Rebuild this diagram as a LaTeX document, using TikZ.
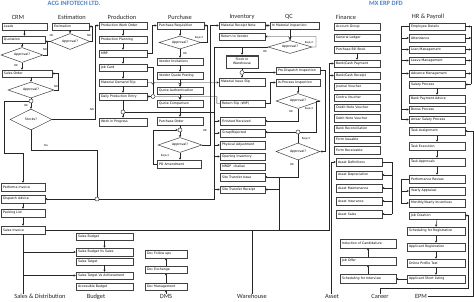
\documentclass[tikz,border=0pt]{standalone}
\usepackage{fontspec}
\setmainfont{DejaVu Sans}
\newfontfamily\hdfam{Carlito}
\usetikzlibrary{arrows.meta,shapes.geometric}
\newcommand\bxfont{\fontsize{3.2}{3.6}\selectfont}
\newcommand\lbfont{\fontsize{2.6}{3}\selectfont}
\newcommand\hdfont{\hdfam\fontsize{6.4}{7}\selectfont}
\newcommand\ttfontx{\hdfam\bfseries\fontsize{6.5}{7}\selectfont}
\definecolor{boxc}{gray}{0.25}
\definecolor{linec}{gray}{0.15}
\definecolor{ttc}{RGB}{79,129,200}
\newcommand\Bx[6]{%
  \pgfmathsetmacro\bxw{#4-#2}%
  \pgfmathsetmacro\bxh{#5-#3}%
  \pgfmathsetmacro\bxt{#4-#2-4}%
  \pgfmathsetmacro\bxcx{(#2+#4)/2}%
  \pgfmathsetmacro\bxcy{(#3+#5)/2}%
  \node[bx,minimum width=\bxw pt,minimum height=\bxh pt,text width=\bxt pt] (#1) at (\bxcx,\bxcy) {\mbox{#6}};}
\begin{document}
\begin{tikzpicture}[x=1pt,y=-1pt,
  bx/.style={draw=boxc,line width=0.5pt,fill=white,inner xsep=2pt,inner ysep=0pt,align=left,font=\bxfont},
  dm/.style={diamond,draw=boxc,line width=0.5pt,fill=white,inner sep=0pt,aspect=2.5,font=\bxfont},
  jn/.style={circle,draw=boxc,line width=0.5pt,fill=white,inner sep=0pt,minimum size=4pt},
  ln/.style={draw=linec,line width=0.45pt},
  ar/.style={ln,-{Stealth[length=2.2pt,width=2.2pt]}},
  dar/.style={ln,{Stealth[length=2.2pt,width=2.2pt]}-{Stealth[length=2.2pt,width=2.2pt]}},
  lb/.style={font=\lbfont,inner sep=0pt},
  hd/.style={font=\hdfont,inner sep=0pt,text=black!85},
  bt/.style={font=\hdfont,inner sep=0.5pt,text=black!85},
  tt/.style={font=\ttfontx,inner sep=0pt,text=ttc}]
\useasboundingbox (0,0) rectangle (474,302);
\fill[white] (0,0) rectangle (474,302);

% ================= NODES =================
\node[tt] (t1) at (74,3.5) {ACG INFOTECH LTD.};
\node[tt] (t2) at (386,3.5) {MX ERP DFD};
\node[hd] (h1) at (18,17) {CRM};
\node[hd] (h2) at (72,17) {Estimation};
\node[hd] (h3) at (122,17) {Production};
\node[hd] (h4) at (180,17) {Purchase};
\node[hd] (h5) at (242,17) {Inventory};
\node[hd] (h6) at (289,17) {QC};
\node[hd] (h7) at (346,17) {Finance};
\node[hd] (h8) at (428,17) {HR \& Payroll};
\node[bt] (lsd) at (40,296.5) {Sales \& Distribution};
\node[bt] (lbud) at (96,296.5) {Budget};
\node[bt] (ldms) at (166,296.5) {DMS};
\node[bt] (lwh) at (252,296.5) {Warehouse};
\node[bt] (lasset) at (332,296.5) {Asset};
\node[bt] (lcar) at (380,296.5) {Career};
\node[bt] (lepm) at (421,296.5) {EPM};

% CRM
\Bx{leads}{2}{23}{47}{30}{Leads}
\Bx{quot}{2}{36}{45}{43}{Quotation}
\node[dm,minimum width=42pt,minimum height=15pt] (ca1) at (22,55) {Approval?};
\Bx{so}{2}{70}{52}{77}{Sales Order}
\node[dm,minimum width=46pt,minimum height=16pt] (ca2) at (31,90) {Approval?};
\node[jn] (c1) at (31,101) {};
\node[dm,minimum width=42pt,minimum height=21pt] (stk) at (31,119.5) {Stocks?};
\Bx{pinv}{1}{183}{45}{191}{Performa Invoice}
\Bx{dadv}{1}{195}{45}{203}{Dispatch Advice}
\Bx{pack}{1}{209}{45}{217}{Packing List}
\Bx{sinv}{1}{226}{45}{234}{Sales Invoice}
\node[jn] (c2) at (97,199) {};
% Estimation
\Bx{est}{52}{23}{89}{30}{Estimation}
\node[dm,minimum width=40pt,minimum height=16pt] (ea) at (70,41.5) {Approval?};
% Production
\Bx{pwo}{99}{22}{147}{29}{Production Work Order}
\Bx{ppl}{99}{36}{147}{43}{Production Planning}
\Bx{mrp}{99}{50}{147}{57}{MRP}
\Bx{jc}{99}{64}{147}{71}{Job Card}
\Bx{mds}{99}{79}{147}{86}{Material Demand Slip}
\Bx{dpe}{99}{93}{147}{100}{Daily Production Entry}
\node[jn] (c3) at (123,112) {};
\Bx{wip}{99}{118}{147}{126}{Work in Progress}
\node[jn] (c5) at (153,96.5) {};
% Purchase
\Bx{pr}{157}{22}{204}{29}{Purchase Requisition}
\node[dm,minimum width=42pt,minimum height=13pt] (pa1) at (180,42.5) {Approval?};
\Bx{vi}{157}{58}{203}{65}{Vendor Invitations}
\Bx{vqp}{157}{72}{203}{79}{Vendor Quote Posting}
\Bx{qa}{157}{87}{203}{94}{Quote Authentication}
\Bx{qcm}{157}{100}{203}{107}{Quote Comparison}
\Bx{po}{157}{117}{203}{125}{Purchase Order}
\node[jn] (c4) at (180,130) {};
\node[dm,minimum width=44pt,minimum height=15pt] (pa2) at (180,145) {Approval?};
\Bx{poa}{157}{160}{201}{168}{PO Amendment}
% Inventory
\Bx{mrn}{219}{22}{265}{29}{Material Receipt Note}
\Bx{rtv}{219}{33}{265}{40}{Return to Vendor}
\node[draw=boxc,line width=.5pt,fill=white,minimum width=32pt,minimum height=13pt,inner sep=0pt,align=center,font=\bxfont] (siw) at (242,61.5) {Stock in\\Warehouse};
\node[jn] (c6) at (242,72.5) {};
\Bx{mis}{219}{78}{265}{86}{Material Issue Slip}
\Bx{rsw}{220}{100}{265}{107}{Return Slip (WIP)}
\Bx{fr}{220}{117}{265}{125}{Finished Received}
\Bx{sr}{220}{129}{265}{137}{Scrap/Rejected}
\Bx{pad}{220}{141}{265}{149}{Physical Adjustment}
\Bx{oi}{220}{153}{265}{160}{Opening Inventory}
\Bx{mrgp}{220}{163}{265}{170}{MRGP \ challan}
\Bx{sti}{220}{173}{265}{181}{Site Transfer Issue}
\Bx{str}{220}{186}{265}{193}{Site Transfer Receipt}
% QC
\Bx{imi}{270}{22}{319}{29}{In Material Inspection}
\node[dm,minimum width=44pt,minimum height=13pt] (qa1) at (290,47) {Approval?};
\Bx{pdi}{276}{67}{320}{74}{Pre Dispatch Inspection}
\Bx{ipi}{276}{79}{320}{86}{In-Process Inspection}
\node[dm,minimum width=44pt,minimum height=15pt] (qa2) at (298,101) {Approval?};
\node[jn] (c7) at (298,132) {};
\node[dm,minimum width=44pt,minimum height=17pt] (qa3) at (298,151.5) {Approval?};
% Finance
\Bx{ag}{334}{23}{380}{30}{Account Group}
\Bx{gl}{334}{34}{380}{41}{General Ledger}
\Bx{pbb}{334}{46}{380}{53}{Purchase Bill Book}
\Bx{bcp}{334}{60}{380}{67}{Bank/Cash Payment}
\Bx{bcr}{334}{72}{380}{79}{Bank/Cash Receipt}
\Bx{jv}{334}{83}{380}{90}{Journal Voucher}
\Bx{cv}{334}{94}{380}{101}{Contra Voucher}
\Bx{cnv}{334}{104}{380}{111}{Credit Note Voucher}
\Bx{dnv}{334}{114}{380}{122}{Debit Note Voucher}
\Bx{brc}{334}{125}{380}{132}{Bank Reconciliation}
\Bx{fis}{334}{136}{380}{143}{Form Issuable}
\Bx{frc}{334}{146}{380}{154}{Form Receivable}
% Asset
\Bx{ad}{336}{158}{382}{166}{Asset Definitions}
\Bx{adp}{336}{171}{382}{179}{Asset Depreciation}
\Bx{amt}{336}{184}{382}{192}{Asset Maintenance}
\Bx{ains}{336}{197}{382}{205}{Asset Insurance}
\Bx{asl}{336}{210}{382}{218}{Asset Sales}
% Career
\Bx{ind}{340}{239}{396}{248}{Induction of Candidature}
\Bx{jo}{340}{257}{396}{265}{Job Offer}
\Bx{sfi}{340}{274}{396}{283}{Scheduling for Interview}
% HR & Payroll
\Bx{ed}{409}{23}{465}{30}{Employee Details}
\Bx{att}{409}{34}{465}{42}{Attendance}
\Bx{lnm}{409}{46}{465}{53}{Loan Management}
\Bx{lvm}{409}{57}{465}{64}{Leave Management}
\Bx{adm}{409}{70}{465}{77}{Advance Management}
\Bx{sp}{409}{81}{465}{88}{Salary Process}
\Bx{bpa}{409}{95}{465}{103}{Bank Payment Advice}
\Bx{bp}{409}{106}{465}{113}{Bonus Process}
\Bx{asp}{409}{116}{465}{123}{Arrear Salary Process}
\Bx{tas}{409}{127}{465}{135}{Task Assignment}
\Bx{tex}{409}{142}{465}{150}{Task Execution}
\Bx{tap}{409}{158}{465}{166}{Task Approvals}
\Bx{prv}{409}{175}{465}{183}{Performance Review}
\Bx{yap}{409}{187}{465}{195}{Yearly Appraisal}
\Bx{myi}{409}{199}{465}{207}{Monthly/Yearly Incentives}
\Bx{jcr}{409}{212}{465}{219}{Job Creation}
\Bx{sfr}{407}{227}{465}{235}{Scheduling for Registration}
\Bx{areg}{407}{243}{465}{251}{Applicant Registration}
\Bx{opt}{407}{259}{465}{267}{Online Profile Test}
\Bx{ash}{407}{275}{465}{283}{Applicant Short listing}
% Budget
\Bx{sb}{76}{233}{133}{240}{Sales Budget}
\Bx{sbvs}{76}{248}{133}{256}{Sales Budget Vs Sales}
\Bx{st}{76}{258}{133}{265}{Sales Target}
\Bx{stva}{76}{272}{133}{279}{Sales Target Vs Achievement}
\Bx{ab}{76}{283}{133}{290}{Accessible Budget}
% DMS
\Bx{dfu}{145}{250}{187}{258}{Doc Follow ups}
\Bx{dex}{145}{266}{187}{273}{Doc Exchange}
\Bx{dmg}{145}{283}{187}{290}{Doc Management}

% coordinates
\coordinate (qok) at (214,47);
\coordinate (stc) at (279,177);
\coordinate (fin) at (329,230);
\coordinate (av) at (392,162);
\coordinate (hl) at (401,26.5);
\coordinate (hr) at (471,26.5);
\coordinate (pl) at (401,179);
\coordinate (cr) at (468,288);

% ================= CONNECTORS =================
\draw[boxc,line width=.5pt] ([yshift=-1.3pt]siw.north west) -- ([yshift=-1.3pt]siw.north east);
% CRM
\draw[ar] (leads.south) -- (leads.south |- quot.north);
\draw[ar] (quot.south -| ca1.north) -- (ca1.north);
\draw[ar] (ca1.south) -- (ca1.south |- so.north);
\draw[ln] (ca1.east) -| (47.5,41.5);
\draw[ar] (so.south -| ca2.north) -- (ca2.north);
\draw[ar] (ca2.east) -- (58,90) |- (so.east);
\draw[ln] (ca2.south) -- (c1.north);
\draw[ar] (c1.south) -- (stk.north);
\draw[ar] (c1.west) -| (4,153) -| (pinv.north);
\draw[ln] (stk.south) -- (31,150) -| (c2.north);
\draw[ar] (stk.east) -- (95.5,119.5) |- (pwo.west);
\draw[ar] (c2.west) -- (dadv.east);
\draw[ar] (dadv.south) -- (pack.north);
\draw[ar] (pack.south) -- (sinv.north);
\node[lb] at (16,65.5) {OK};
\node[lb] at (45,50) {NO};
\node[lb] at (56,86.5) {NO};
\node[lb] at (26,105.5) {OK};
\node[lb] at (46,146) {Yes};
\node[lb] at (92,110) {NO};
% Estimation
\draw[ar] (est.south -| ea.north) -- (ea.north);
\draw[ar] (ea.west) -- (ea.west -| quot.east);
\draw[ar] (ea.east) -- (92.5,41.5) |- (est.east);
\node[lb] at (51.5,36) {OK};
\node[lb] at (89,35.5) {NO};
% Production
\foreach \a/\b in {pwo/ppl,ppl/mrp,mrp/jc,jc/mds,mds/dpe} \draw[ar] (\a.south) -- (\b.north);
\draw[ln] (dpe.south) -- (c3.north);
\draw[ar] (c3.south) -- (wip.north);
\draw[ar] (mrp.east) -- (152,53.5) |- (pr.west);
\draw[ln] (jc.east) -| (c5.north);
\draw[ar] (c5.west) -- (dpe.east);
% Purchase
\draw[ar] (pr.south -| pa1.north) -- (pa1.north);
\draw[ar] (pa1.south) -- (pa1.south |- vi.north);
\draw[ar] (pa1.east) -- (207.5,42.5) |- (pr.east);
\foreach \a/\b in {vi/vqp,vqp/qa,qa/qcm,qcm/po} \draw[ar] (\a.south) -- (\b.north);
\draw[ln] (po.south -| c4.north) -- (c4.north);
\draw[ar] (c4.south) -- (pa2.north);
\draw[ar] (pa2.east) -- (210.5,145) |- (mrn.west);
\draw[ar] (pa2.south) -- (pa2.south |- poa.north);
\draw[ar] (poa.west) -- (153,164) |- (c4.west);
\node[lb] at (185,54) {OK};
\node[lb] at (199,37.5) {Reject};
\node[lb] at (205,131) {OK};
\node[lb] at (165,156) {Reject};
% Inventory
\draw[ln] (qa1.west) -- (qok) -- (qok |- c2.east) -- (c2.east);
\draw[ar] (siw.north |- qok) -- (siw.north);
\foreach \q in {fr,sr,pad,oi,str} \draw[ar] (qok |- \q.west) -- (\q.west);
\draw[ln] (qok |- c3.east) -- (c3.east);
\draw[ar] (mds.east) -- (151.2,82.5) arc[start angle=180,end angle=0,radius=1.8] -- (178.2,82.5) arc[start angle=180,end angle=0,radius=1.8] -- (mds.east -| mis.west);
\draw[ln] (rsw.west) -- ++(-3,0) -- (217,96.5) -- (181.8,96.5) arc[start angle=0,end angle=180,radius=1.8] -- (c5.east);
\draw[ln] (siw.south) -- (c6.north);
\draw[ar] (c6.south) -- (mis.north);
\draw[ar] (c6.east) -- (c6.east -| pdi.west);
\draw[dar] (mrn.east) -- (imi.west);
% QC
\draw[ar] (imi.south -| qa1.north) -- (qa1.north);
\draw[ar] (qa1.east) -- (316,47) -- (316,36.5) -- (291.8,36.5) arc[start angle=0,end angle=180,radius=1.8] -- (rtv.east);
\draw[ar] (rsw.east) -- (270,103.5) |- (ipi.west);
\draw[ar] (ipi.south -| qa2.north) -- (qa2.north);
\draw[ar] (qa2.south) |- (fr.east);
\draw[ln] (qa2.east) -- (316,101) |- (c7.east);
\draw[ar] (c7.west) -- (c7.west -| sr.east);
\draw[ln] (qa3.north) -- (c7.south);
\draw[ar] (pdi.east) -- (325,70.5) |- (qa3.east);
\draw[ln] (qa3.south) |- (stc);
\draw[ar] (stc) -- (stc -| sti.east);
\draw[ar] (stc |- str.east) -- (str.east);
\node[lb] at (309,43) {Reject};
\node[lb] at (265,51.5) {OK};
\node[lb] at (291,112) {OK};
\node[lb] at (309,109) {Reject};
\node[lb] at (306,139) {Reject};
\node[lb] at (292,165) {OK};
% Finance
\draw[ar] (pbb.south) -- (bcp.north);
\draw[ar] (sinv.east) -- (sinv.east -| fin) -- (fin |- bcp.west) -- (bcp.west);
\draw[ar] (fin |- bcr.west) -- (bcr.west);
\draw[ln] (lwh.north) -- (lwh.north |- fin);
\draw[ln] (stc) -- (stc |- fin);
% Asset
\draw[ar] ([xshift=-1pt]lasset.north) |- (ad.west);
\draw[ln] (ad.east) -- (av |- ad.east) -- (av |- asl.east);
\foreach \q in {adp,amt,ains,asl} \draw[ar] (av |- \q.east) -- (\q.east);
% Career
\draw[ar] (sfi.north) -- (jo.south);
\draw[ar] (jo.north) -- (ind.south);
% HR
\draw[ln] (ed.west) -- (hl) -- (hl |- asp.west);
\foreach \q in {att,lnm,lvm,adm,bp,asp} \draw[ar] (hl |- \q.west) -- (\q.west);
\draw[ln] (hr) -- (hr |- sp.east);
\draw[ar] (hr |- sp.east) -- (sp.east);
\foreach \q in {ed,att,lnm,lvm,adm} \draw[ar] (\q.east) -- (hr |- \q.east);
\draw[ar] (sp.south) -- (bpa.north);
\foreach \a/\b in {tas/tex,tex/tap,tap/prv,jcr/sfr,sfr/areg,areg/opt,opt/ash} \draw[ar] (\a.south) -- (\b.north);
\draw[ln] (prv.west) -- (pl) -- (pl |- myi.west);
\foreach \q in {yap,myi} \draw[ar] (pl |- \q.west) -- (\q.west);
\draw[ar] (ash.west) -- (ash.west -| sfi.east);
\draw[ar] (lcar.north) |- (cr) |- (jcr.east);
\draw[ar] (lepm.east) -- (473,296.5) |- (tas.east);
% Budget
\draw[ar] (sb.south) -- (sbvs.north);
\draw[ar] (st.south) -- (stva.north);
\draw[ln] (sinv.south) -- (sinv.south |- lsd.north);
\draw[ar] (sinv.south |- sbvs.west) -- (sbvs.west);
\draw[ar] (sinv.south |- stva.west) -- (stva.west);
% DMS
\draw[ar] (ldms.north) -- (dmg.south);
\draw[ar] (dmg.north) -- (dex.south);
\draw[ar] (dex.north) -- (dfu.south);
\end{tikzpicture}
\end{document}
